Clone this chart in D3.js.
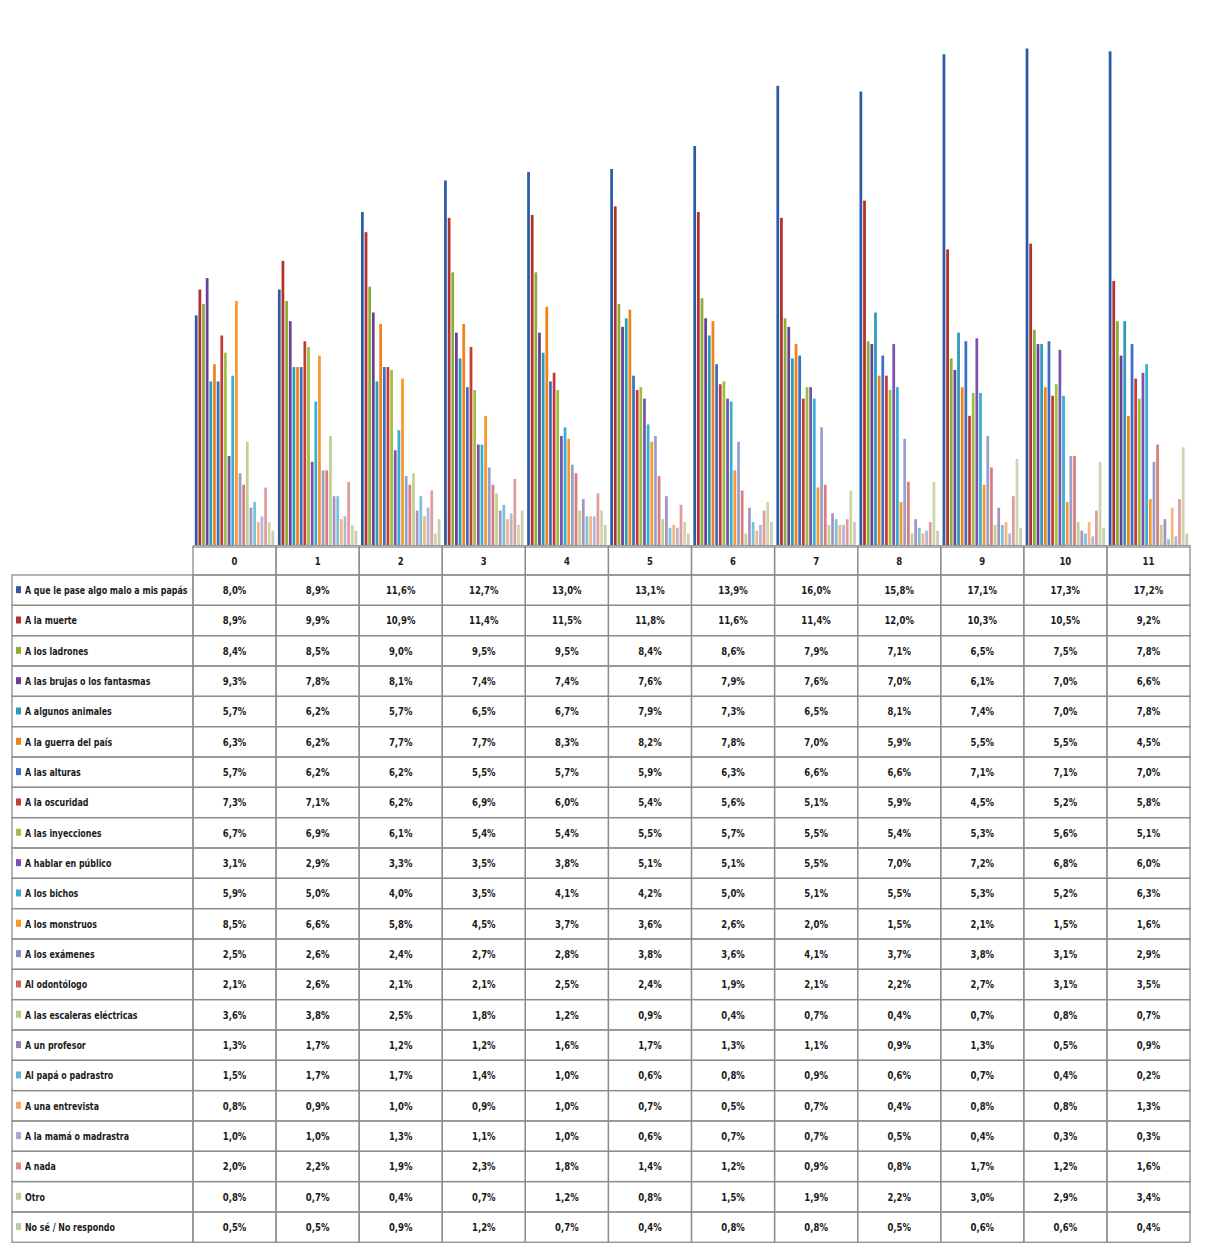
<!DOCTYPE html>
<html><head><meta charset="utf-8">
<script src="https://cdn.jsdelivr.net/npm/d3@7"></script>
<style>
html,body{margin:0;padding:0;background:#fff;}
svg{display:block;}
text{font-family:'Liberation Sans Narrow','DejaVu Sans Condensed','Liberation Sans',sans-serif;}
</style></head>
<body>
<svg id="chart" width="1207" height="1243"></svg>
<script>
const groups = ["0","1","2","3","4","5","6","7","8","9","10","11"];
const seriesNames = [
 "A que le pase algo malo a mis papás",
 "A la muerte",
 "A los ladrones",
 "A las brujas o los fantasmas",
 "A algunos animales",
 "A la guerra del país",
 "A las alturas",
 "A la oscuridad",
 "A las inyecciones",
 "A hablar en público",
 "A los bichos",
 "A los monstruos",
 "A los exámenes",
 "Al odontólogo",
 "A las escaleras eléctricas",
 "A un profesor",
 "Al papá o padrastro",
 "A una entrevista",
 "A la mamá o madrastra",
 "A nada",
 "Otro",
 "No sé / No respondo"
];
const seriesValues = [
 [8.0, 8.9, 11.6, 12.7, 13.0, 13.1, 13.9, 16.0, 15.8, 17.1, 17.3, 17.2],
 [8.9, 9.9, 10.9, 11.4, 11.5, 11.8, 11.6, 11.4, 12.0, 10.3, 10.5, 9.2],
 [8.4, 8.5, 9.0, 9.5, 9.5, 8.4, 8.6, 7.9, 7.1, 6.5, 7.5, 7.8],
 [9.3, 7.8, 8.1, 7.4, 7.4, 7.6, 7.9, 7.6, 7.0, 6.1, 7.0, 6.6],
 [5.7, 6.2, 5.7, 6.5, 6.7, 7.9, 7.3, 6.5, 8.1, 7.4, 7.0, 7.8],
 [6.3, 6.2, 7.7, 7.7, 8.3, 8.2, 7.8, 7.0, 5.9, 5.5, 5.5, 4.5],
 [5.7, 6.2, 6.2, 5.5, 5.7, 5.9, 6.3, 6.6, 6.6, 7.1, 7.1, 7.0],
 [7.3, 7.1, 6.2, 6.9, 6.0, 5.4, 5.6, 5.1, 5.9, 4.5, 5.2, 5.8],
 [6.7, 6.9, 6.1, 5.4, 5.4, 5.5, 5.7, 5.5, 5.4, 5.3, 5.6, 5.1],
 [3.1, 2.9, 3.3, 3.5, 3.8, 5.1, 5.1, 5.5, 7.0, 7.2, 6.8, 6.0],
 [5.9, 5.0, 4.0, 3.5, 4.1, 4.2, 5.0, 5.1, 5.5, 5.3, 5.2, 6.3],
 [8.5, 6.6, 5.8, 4.5, 3.7, 3.6, 2.6, 2.0, 1.5, 2.1, 1.5, 1.6],
 [2.5, 2.6, 2.4, 2.7, 2.8, 3.8, 3.6, 4.1, 3.7, 3.8, 3.1, 2.9],
 [2.1, 2.6, 2.1, 2.1, 2.5, 2.4, 1.9, 2.1, 2.2, 2.7, 3.1, 3.5],
 [3.6, 3.8, 2.5, 1.8, 1.2, 0.9, 0.4, 0.7, 0.4, 0.7, 0.8, 0.7],
 [1.3, 1.7, 1.2, 1.2, 1.6, 1.7, 1.3, 1.1, 0.9, 1.3, 0.5, 0.9],
 [1.5, 1.7, 1.7, 1.4, 1.0, 0.6, 0.8, 0.9, 0.6, 0.7, 0.4, 0.2],
 [0.8, 0.9, 1.0, 0.9, 1.0, 0.7, 0.5, 0.7, 0.4, 0.8, 0.8, 1.3],
 [1.0, 1.0, 1.3, 1.1, 1.0, 0.6, 0.7, 0.7, 0.5, 0.4, 0.3, 0.3],
 [2.0, 2.2, 1.9, 2.3, 1.8, 1.4, 1.2, 0.9, 0.8, 1.7, 1.2, 1.6],
 [0.8, 0.7, 0.4, 0.7, 1.2, 0.8, 1.5, 1.9, 2.2, 3.0, 2.9, 3.4],
 [0.5, 0.5, 0.9, 1.2, 0.7, 0.4, 0.8, 0.8, 0.5, 0.6, 0.6, 0.4]
];
const seriesColors = [
 "#2b5ba8","#b3302b","#8aae3a","#6a3f98","#2b9bb8","#f0821a",
 "#3c6fc2","#c83a34","#9cc042","#7a52ad","#36afd2","#f7972f",
 "#8190c4","#d46662","#b7c882","#9480b8","#62b8cf","#f5a86a",
 "#a2aad2","#dc8a8c","#c7cc9c","#bcc7a8"
];

const svg = d3.select("#chart");
const locale = d3.formatLocale({decimal: ",", thousands: ".", grouping: [3], currency: ["", ""]});
const fmt = v => locale.format(".1f")(v) + "%";

const plotLeft = 193, plotRight = 1190, baseY = 545;
const x0 = d3.scaleBand().domain(groups).range([plotLeft, plotRight]);
const x1 = d3.scaleBand().domain(d3.range(seriesNames.length)).range([0, x0.bandwidth()]).paddingInner(0.25).paddingOuter(0.5);
const y = d3.scaleLinear().domain([0, 18]).range([baseY, baseY - 18 * 28.7]);

// bars
const gBars = svg.append("g");
groups.forEach((g, gi) => {
  const gg = gBars.append("g").attr("transform", `translate(${x0(g)},0)`);
  seriesValues.forEach((vals, si) => {
    gg.append("rect")
      .attr("x", x1(si))
      .attr("y", y(vals[gi]))
      .attr("width", x1.bandwidth())
      .attr("height", baseY - y(vals[gi]))
      .attr("fill", seriesColors[si])
      .attr("fill-opacity", si < 12 ? 1 : 0.85);
  });
});

// axis baseline and ticks
const axis = d3.axisBottom(x0).tickSize(0).tickFormat("");
svg.append("g").attr("transform", `translate(0,${baseY})`).call(axis)
  .call(s => s.select(".domain").attr("stroke", "#9a9a9a"));
svg.append("g").selectAll("line").data(groups.concat(["end"])).join("line")
  .attr("x1", (d, i) => plotLeft + i * x0.step()).attr("x2", (d, i) => plotLeft + i * x0.step())
  .attr("y1", baseY).attr("y2", baseY + 3).attr("stroke", "#9a9a9a");

// data table
const tableLeft = 12, headerTop = 547, headerH = 28, rowH = 30.33;
const rowTop = headerTop + headerH;
const lineColor = "#8c8c8c";
const tg = svg.append("g");
const sx = 0.86;
function addText(parent, x, yy, str, anchor) {
  parent.append("text")
    .attr("transform", `translate(${x},${yy}) scale(${sx},1)`)
    .attr("text-anchor", anchor).attr("font-size", 11).attr("fill", "#1a1a1a")
    .attr("font-weight", 600)
    .text(str);
}

// header cells
groups.forEach(g => {
  tg.append("rect").attr("x", x0(g)).attr("y", headerTop)
    .attr("width", x0.bandwidth()).attr("height", headerH)
    .attr("fill", "none").attr("stroke", lineColor).attr("stroke-width", 1.3);
  addText(tg, x0(g) + x0.bandwidth() / 2, headerTop + headerH / 2 + 4, g, "middle");
});

// rows
seriesNames.forEach((name, si) => {
  const ty = rowTop + si * rowH;
  tg.append("rect").attr("x", tableLeft).attr("y", ty)
    .attr("width", plotLeft - tableLeft).attr("height", rowH)
    .attr("fill", "none").attr("stroke", lineColor).attr("stroke-width", 1.3);
  tg.append("rect").attr("x", 16).attr("y", ty + rowH / 2 - 4)
    .attr("width", 5).attr("height", 7).attr("fill", seriesColors[si]);
  tg.append("text")
    .attr("transform", `translate(25,${ty + rowH / 2 + 4}) scale(0.8,1)`)
    .attr("font-size", 11).attr("fill", "#1a1a1a").attr("font-weight", 600).text(name);
  groups.forEach((g, gi) => {
    tg.append("rect").attr("x", x0(g)).attr("y", ty)
      .attr("width", x0.bandwidth()).attr("height", rowH)
      .attr("fill", "none").attr("stroke", lineColor).attr("stroke-width", 1.3);
    addText(tg, x0(g) + x0.bandwidth() / 2, ty + rowH / 2 + 4, fmt(seriesValues[si][gi]), "middle");
  });
});
</script>
</body></html>
